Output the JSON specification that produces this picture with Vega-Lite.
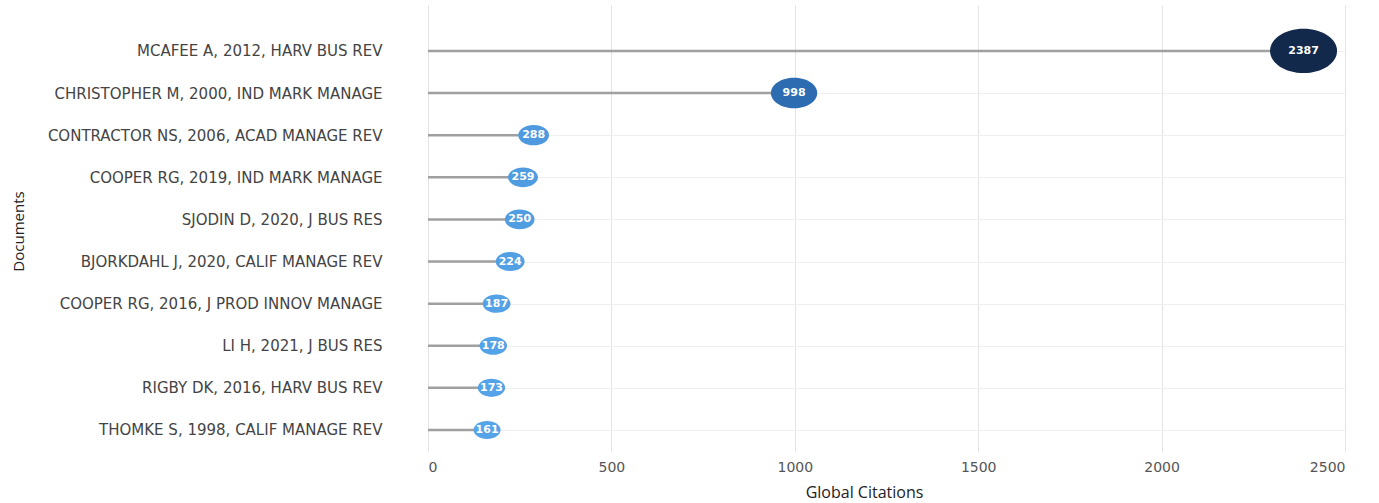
{
  "$schema": "https://vega.github.io/schema/vega-lite/v6.json",
  "width": 917,
  "height": 447,
  "autosize": {"type": "none"},
  "padding": {"left": 428, "top": 5, "right": 34, "bottom": 51},
  "background": "white",
  "config": {"view": {"stroke": null}},
  "data": {
    "values": [
      {"doc": "MCAFEE A, 2012, HARV BUS REV", "citations": 2387},
      {"doc": "CHRISTOPHER M, 2000, IND MARK MANAGE", "citations": 998},
      {"doc": "CONTRACTOR NS, 2006, ACAD MANAGE REV", "citations": 288},
      {"doc": "COOPER RG, 2019, IND MARK MANAGE", "citations": 259},
      {"doc": "SJODIN D, 2020, J BUS RES", "citations": 250},
      {"doc": "BJORKDAHL J, 2020, CALIF MANAGE REV", "citations": 224},
      {"doc": "COOPER RG, 2016, J PROD INNOV MANAGE", "citations": 187},
      {"doc": "LI H, 2021, J BUS RES", "citations": 178},
      {"doc": "RIGBY DK, 2016, HARV BUS REV", "citations": 173},
      {"doc": "THOMKE S, 1998, CALIF MANAGE REV", "citations": 161}
    ]
  },
  "encoding": {
    "y": {
      "field": "doc",
      "type": "nominal",
      "sort": {"field": "citations", "order": "descending"},
      "scale": {"type": "point", "padding": 0.807, "align": 0.676},
      "axis": {
        "title": "Documents",
        "titleFont": "Open Sans",
        "titleFontSize": 15,
        "titleFontWeight": "normal",
        "titleColor": "#222",
        "titleX": -410,
        "titleY": 226,
        "titleAngle": 270,
        "titleBaseline": "middle",
        "titleAlign": "center",
        "labelFont": "DejaVu Sans",
        "labelFontSize": 15,
        "labelColor": "#444",
        "labelPadding": 46,
        "labelLimit": 500,
        "domain": false,
        "ticks": false,
        "grid": true,
        "gridColor": "#efefef",
        "gridWidth": 1
      }
    },
    "x": {
      "field": "citations",
      "type": "quantitative",
      "scale": {"domain": [0, 2500], "nice": false},
      "axis": {
        "title": "Global Citations",
        "titleFont": "Open Sans",
        "titleFontSize": 16,
        "titleFontWeight": "normal",
        "titleColor": "#222",
        "titleX": 436,
        "titleY": 40,
        "titleBaseline": "middle",
        "values": [0, 500, 1000, 1500, 2000, 2500],
        "format": "d",
        "labelFont": "DejaVu Sans",
        "labelFontSize": 14,
        "labelColor": "#555",
        "labelPadding": 8,
        "domain": false,
        "ticks": false,
        "grid": true,
        "gridColor": "#e4e4e4",
        "gridWidth": 1
      }
    }
  },
  "layer": [
    {
      "mark": {"type": "bar", "color": "#a0a0a0", "size": 2.5}
    },
    {
      "mark": {
        "type": "point",
        "filled": true,
        "opacity": 1,
        "shape": "M -1 0 A 1 0.66 0 1 0 1 0 A 1 0.66 0 1 0 -1 0 Z"
      },
      "encoding": {
        "size": {
          "field": "citations",
          "type": "quantitative",
          "scale": {"type": "linear", "domain": [161, 2387], "range": [729, 4489]},
          "legend": null
        },
        "color": {
          "field": "citations",
          "type": "quantitative",
          "scale": {"domain": [161, 998, 2387], "range": ["#55a3e8", "#2d6cb0", "#13294b"]},
          "legend": null
        }
      }
    },
    {
      "mark": {
        "type": "text",
        "color": "white",
        "font": "DejaVu Sans",
        "fontWeight": "bold",
        "fontSize": 11,
        "align": "center",
        "baseline": "middle"
      },
      "encoding": {
        "text": {"field": "citations", "type": "quantitative", "format": "d"}
      }
    }
  ]
}
